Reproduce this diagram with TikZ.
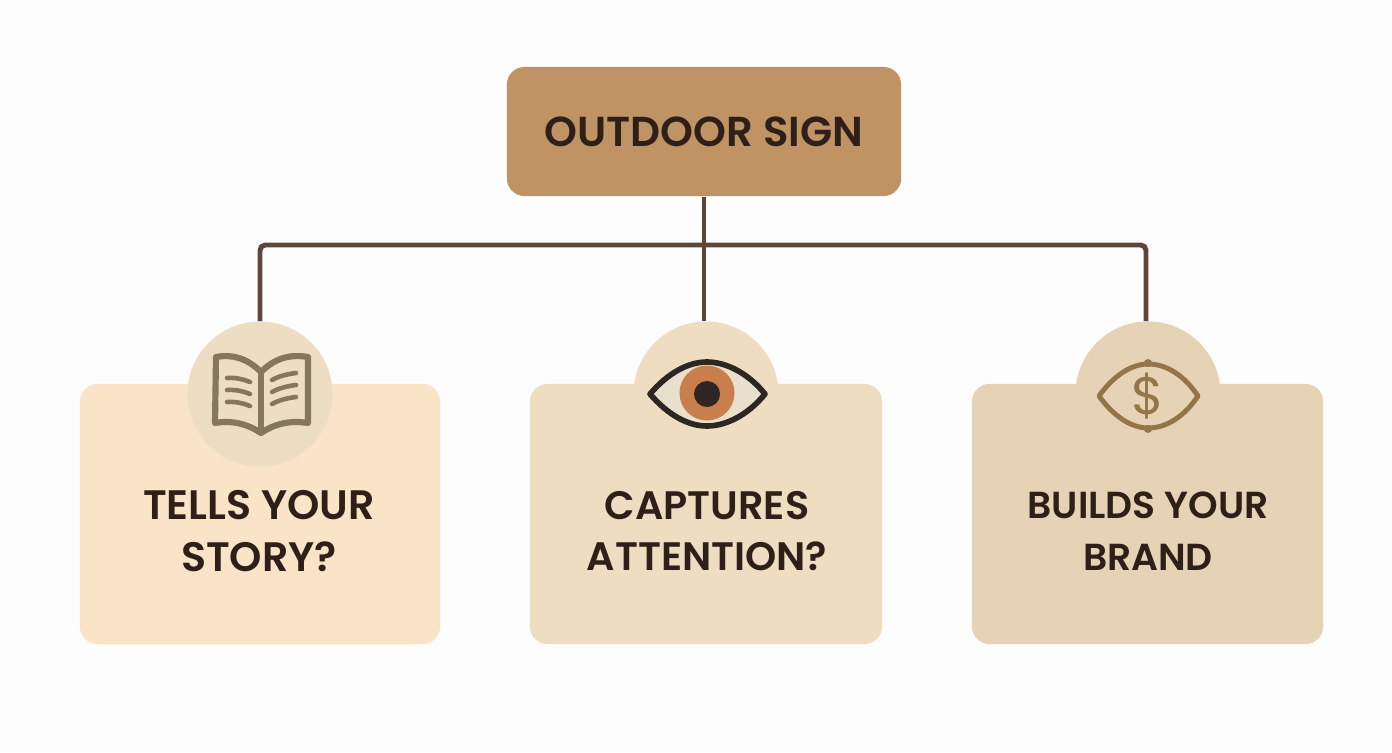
\documentclass[tikz,border=0pt]{standalone}
\usepackage{fontspec}
\setmainfont{Poppins}[BoldFont={Poppins SemiBold}]
\definecolor{pagebg}{HTML}{FDFDFD}
\definecolor{signfill}{HTML}{BF9363}
\definecolor{inkdark}{HTML}{2E2019}
\definecolor{linkbrown}{HTML}{5A463A}
\definecolor{storyfill}{HTML}{F9E4C7}
\definecolor{storyring}{HTML}{EDDDC3}
\definecolor{attnfill}{HTML}{EEDDC1}
\definecolor{brandfill}{HTML}{E6D2B4}
\definecolor{bookline}{HTML}{857660}
\definecolor{eyewhite}{HTML}{E8DFCC}
\definecolor{eyeiris}{HTML}{C87F4B}
\definecolor{eyeink}{HTML}{2D2724}
\definecolor{coinline}{HTML}{927548}
\tikzset{
  signbox/.style={fill=signfill,rounded corners=5pt,minimum width=3.94cm,minimum height=1.29cm,
    font=\fontsize{11.9}{14}\selectfont\bfseries,text=inkdark},
  cardbox/.style={rounded corners=5pt,minimum height=2.6cm},
  iconcircle/.style={circle,minimum size=1.45cm,inner sep=0pt},
  cardtext/.style={align=center,font=\fontsize{11.3}{14.7}\selectfont\bfseries,text=inkdark},
  link/.style={linkbrown,line width=1.4pt,rounded corners=1.5pt},
  bookstroke/.style={bookline,line width=1.75pt,line cap=round,line join=round},
  pagerule/.style={bookline,line width=1.3pt,line cap=round}
}
\begin{document}
\begin{tikzpicture}[x=0.01cm,y=-0.01cm]
  \useasboundingbox[fill=pagebg] (0,0) rectangle (1392,752);

  % cards
  \node[signbox] (sign) at (704,131.5) {OUTDOOR SIGN};
  \node[cardbox,fill=storyfill,minimum width=3.6cm] (storycard) at (260,514) {};
  \node[cardbox,fill=attnfill,minimum width=3.52cm] (attncard) at (706,514) {};
  \node[cardbox,fill=brandfill,minimum width=3.51cm] (brandcard) at (1147.5,514) {};
  \node[iconcircle,fill=storyring] (storyicon) at (260,394) {};
  \node[iconcircle,fill=attnfill] (attnicon) at (706,394) {};
  \node[iconcircle,fill=brandfill] (brandicon) at (1148,394) {};

  % connectors
  \coordinate (storytop) at (260,321);
  \coordinate (attntop) at (704,321);
  \coordinate (brandtop) at (1146,321);
  \draw[link] (storytop) -- (260,245) -- (1146,245) -- (brandtop);
  \draw[link] (sign.south -| attntop) -- (attntop);

  % book
  \draw[bookstroke] (261,372) .. controls (247,358) and (232,354) .. (216,357) -- (215,423)
    .. controls (232,420) and (248,424) .. (261,433)
    .. controls (274,424) and (290,420) .. (308,423) -- (308,357)
    .. controls (290,354) and (275,358) .. (261,372) -- cycle;
  \draw[bookstroke] (261,372) -- (261,433);
  \foreach \yy in {378,390,402} {
    \draw[pagerule] (227,\yy) .. controls (235,\yy-0.5) and (243,\yy+1) .. (250,\yy+4);
  }
  \foreach \yy in {378,390,402} {
    \draw[pagerule] (272,\yy+2) .. controls (279,\yy-2) and (288,\yy-4) .. (296,\yy-5);
  }

  % eye
  \draw[eyeink,fill=eyewhite,line width=1.6pt,line join=round] (650,394)
    .. controls (668,373) and (688,362) .. (707,362) .. controls (726,362) and (748,373) .. (765,394)
    .. controls (748,415) and (726,426) .. (707,426) .. controls (688,426) and (668,415) .. (650,394) -- cycle;
  \fill[eyeiris] (707,393) circle (27.5);
  \fill[eyeink] (707,394) circle (13);

  % coin eye
  \draw[coinline,line width=1.4pt,line join=round] (1099,396)
    .. controls (1114,375) and (1132,364) .. (1148,364) .. controls (1166,364) and (1184,375) .. (1198,396)
    .. controls (1184,417) and (1166,428) .. (1148,428) .. controls (1132,428) and (1114,417) .. (1099,396) -- cycle;
  \fill[coinline] (1148,363) circle (4);
  \fill[coinline] (1148,429) circle (4);
  \node[text=coinline,font=\fontsize{15}{16}\selectfont,inner sep=0pt] (coin) at (1148,396) {\$};

  % labels
  \node[cardtext,font=\fontsize{11.7}{14.7}\selectfont\bfseries] (storytext) at (259,531) {TELLS YOUR\\STORY?};
  \node[cardtext] (attntext) at (707,531) {CAPTURES\\ATTENTION?};
  \node[cardtext,font=\fontsize{10.7}{14.7}\selectfont\bfseries] (brandtext) at (1148,531) {BUILDS YOUR\\BRAND};
\end{tikzpicture}
\end{document}
